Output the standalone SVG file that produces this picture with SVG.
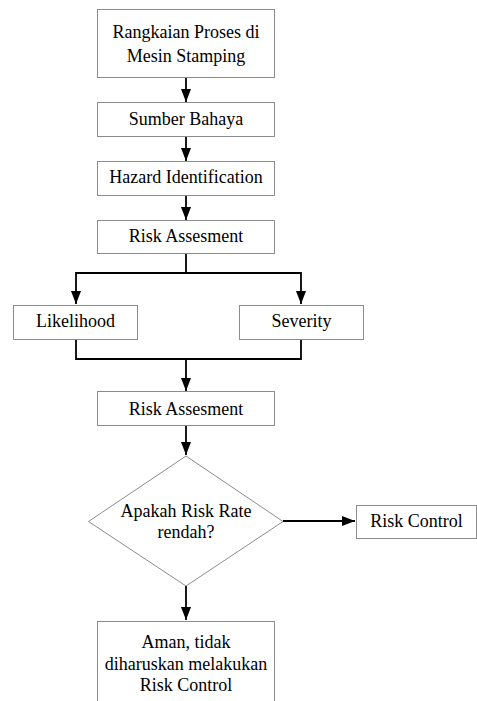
<svg xmlns="http://www.w3.org/2000/svg" width="477" height="701" viewBox="0 0 477 701">
<defs>
<marker id="ah" markerWidth="13" markerHeight="10" refX="13" refY="5" orient="auto" markerUnits="userSpaceOnUse" viewBox="0 0 13 10">
<path d="M0,0 L13,5 L0,10 Z" fill="#000"/>
</marker>
</defs>
<style>
.box{fill:#fff;stroke:#8c8c8c;stroke-width:1}
.t{font-family:"Liberation Serif","Times New Roman",serif;font-size:18px;fill:#000;text-anchor:middle}
.c{fill:none;stroke:#000;stroke-width:1.8}
</style>
<rect width="477" height="701" fill="#fff"/>
<g id="connectors">
<line class="c" x1="186" y1="78" x2="186" y2="102" marker-end="url(#ah)"/>
<line class="c" x1="186" y1="137" x2="186" y2="161" marker-end="url(#ah)"/>
<line class="c" x1="186" y1="195" x2="186" y2="220" marker-end="url(#ah)"/>
<polyline class="c" points="186,253 186,273 76,273 76,304" marker-end="url(#ah)"/>
<polyline class="c" points="186,273 301,273 301,304" marker-end="url(#ah)"/>
<polyline class="c" points="76,339 76,359 301,359 301,339"/>
<line class="c" x1="186" y1="359" x2="186" y2="391" marker-end="url(#ah)"/>
<line class="c" x1="186" y1="426" x2="186" y2="455" marker-end="url(#ah)"/>
<line class="c" x1="283" y1="521" x2="355" y2="521" marker-end="url(#ah)"/>
<line class="c" x1="186" y1="586" x2="186" y2="620" marker-end="url(#ah)"/>
</g>
<g id="n1">
<rect class="box" x="97.5" y="9.5" width="177" height="68"/>
<text class="t" x="186" y="38">Rangkaian Proses di</text>
<text class="t" x="186" y="62">Mesin Stamping</text>
</g>
<g id="n2">
<rect class="box" x="97.5" y="102.5" width="177" height="34"/>
<text class="t" x="186" y="125">Sumber Bahaya</text>
</g>
<g id="n3">
<rect class="box" x="97.5" y="161.5" width="177" height="34"/>
<text class="t" x="186" y="183">Hazard Identification</text>
</g>
<g id="n4">
<rect class="box" x="97.5" y="220.5" width="177" height="33"/>
<text class="t" x="186" y="242">Risk Assesment</text>
</g>
<g id="n5">
<rect class="box" x="13.5" y="305.5" width="124" height="34"/>
<text class="t" x="75.5" y="327">Likelihood</text>
</g>
<g id="n6">
<rect class="box" x="239.5" y="305.5" width="124" height="34"/>
<text class="t" x="301.5" y="327">Severity</text>
</g>
<g id="n7">
<rect class="box" x="97.5" y="391.5" width="177" height="34"/>
<text class="t" x="186" y="415">Risk Assesment</text>
</g>
<g id="n8">
<polygon class="box" points="186,456 283,521.5 186,586 88.5,521.5"/>
<text class="t" x="186" y="517">Apakah Risk Rate</text>
<text class="t" x="186" y="538">rendah?</text>
</g>
<g id="n9">
<rect class="box" x="356.5" y="505.5" width="120" height="33"/>
<text class="t" x="416.5" y="527">Risk Control</text>
</g>
<g id="n10">
<rect class="box" x="97.5" y="621.5" width="177" height="100"/>
<text class="t" x="186" y="648">Aman, tidak</text>
<text class="t" x="186" y="670">diharuskan melakukan</text>
<text class="t" x="186" y="691">Risk Control</text>
</g>
</svg>
